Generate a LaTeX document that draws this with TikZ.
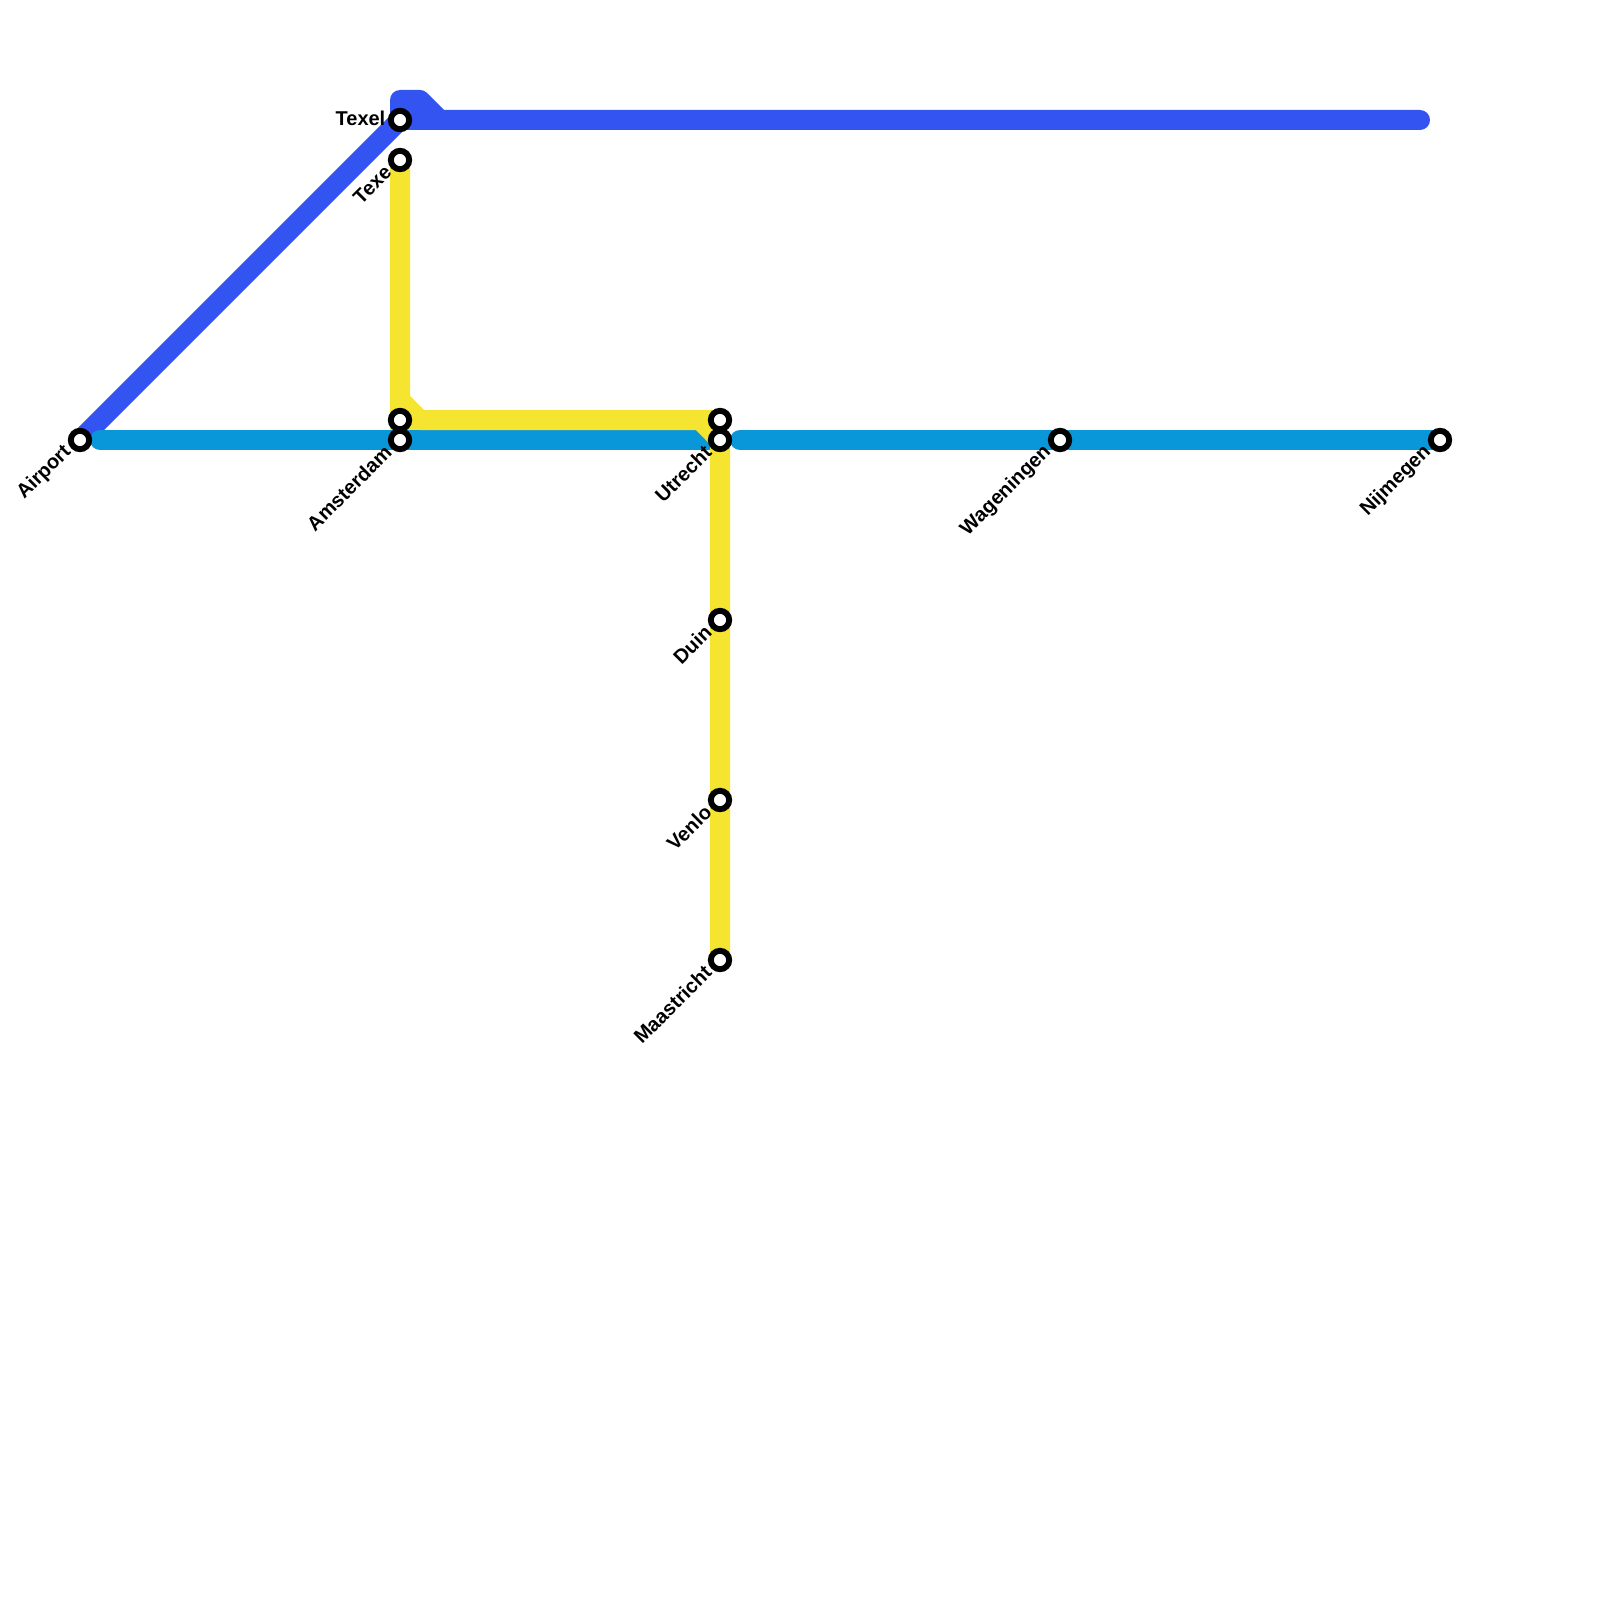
\documentclass[tikz,border=0pt]{standalone}
\usepackage{fontspec}
\setmainfont{Liberation Sans}
\usetikzlibrary{backgrounds}
\definecolor{lineblue}{HTML}{3454F2}
\definecolor{linecyan}{HTML}{0A97D9}
\definecolor{lineyellow}{HTML}{F5E531}
\tikzset{
  stn/.style={circle,draw=black,fill=white,line width=5.9pt,minimum size=18.4pt,inner sep=0pt,outer sep=0pt},
  metro/.style={line width=20pt,line join=round,line cap=round},
  lbl/.style={font=\bfseries\fontsize{20}{20}\selectfont,text=black,inner sep=0pt},
  lbldiag/.style={lbl,rotate=45,anchor=east}
}
\begin{document}
\begin{tikzpicture}[x=1pt,y=-1pt]
\useasboundingbox (0,0) rectangle (1600,1600);
% labels
\node[lbl,anchor=east] (ltexel) at (385.5,118) {Texel};
\node[lbldiag] (ltexe) at (388,169) {Texe};
\node[lbldiag] (lairport) at (68,449) {Airport};
\node[lbldiag] (lamsterdam) at (388,449) {Amsterdam};
\node[lbldiag] (lutrecht) at (708,449) {Utrecht};
\node[lbldiag] (lduin) at (708,629) {Duin};
\node[lbldiag] (lvenlo) at (708,809) {Venlo};
\node[lbldiag] (lmaastricht) at (708,969) {Maastricht};
\node[lbldiag] (lwageningen) at (1048,449) {Wageningen};
\node[lbldiag] (lnijmegen) at (1428,449) {Nijmegen};
% stations
\node[stn] (airport) at (80,440) {};
\node[stn] (texel) at (400,120) {};
\node[stn] (texe) at (400,160) {};
\node[stn] (ams2) at (400,420) {};
\node[stn] (ams) at (400,440) {};
\node[stn] (utr2) at (720,420) {};
\node[stn] (utr) at (720,440) {};
\node[stn] (duin) at (720,620) {};
\node[stn] (venlo) at (720,800) {};
\node[stn] (maas) at (720,960) {};
\node[stn] (wag) at (1060,440) {};
\node[stn] (nij) at (1440,440) {};
% free ends and bends
\coordinate (bA) at (400,100);
\coordinate (bB) at (420,100);
\coordinate (bC) at (440,120);
\coordinate (bEnd) at (1420,120);
\coordinate (cStart) at (100,440);
\coordinate (cResume) at (740,440);
\coordinate (yA) at (400,400);
\coordinate (yB) at (420,420);
\coordinate (yC) at (700,420);
\begin{pgfonlayer}{background}
\draw[metro,lineblue] (airport.center) -- (texel.center) -- (bA) -- (bB) -- (bC) -- (bEnd);
\draw[metro,lineblue,line cap=butt] (texel.center) -- (bC);
\fill[lineblue] (bA) -- (bB) -- (bC) -- (texel.center) -- cycle;
\draw[metro,linecyan] (cStart) -- (ams.center) -- (utr.center);
\draw[metro,linecyan] (cResume) -- (wag.center) -- (nij.center);
\draw[line width=20pt,lineyellow,line join=round] (texe.center) -- (yA) -- (yB) -- (utr2.center);
\draw[line width=20pt,lineyellow,line join=round] (yC) -- (utr.center) -- (duin.center) -- (venlo.center) -- (maas.center);
\draw[line width=20pt,lineyellow] (yA) -- (ams2.center) -- (yB);
\end{pgfonlayer}
\end{tikzpicture}
\end{document}
